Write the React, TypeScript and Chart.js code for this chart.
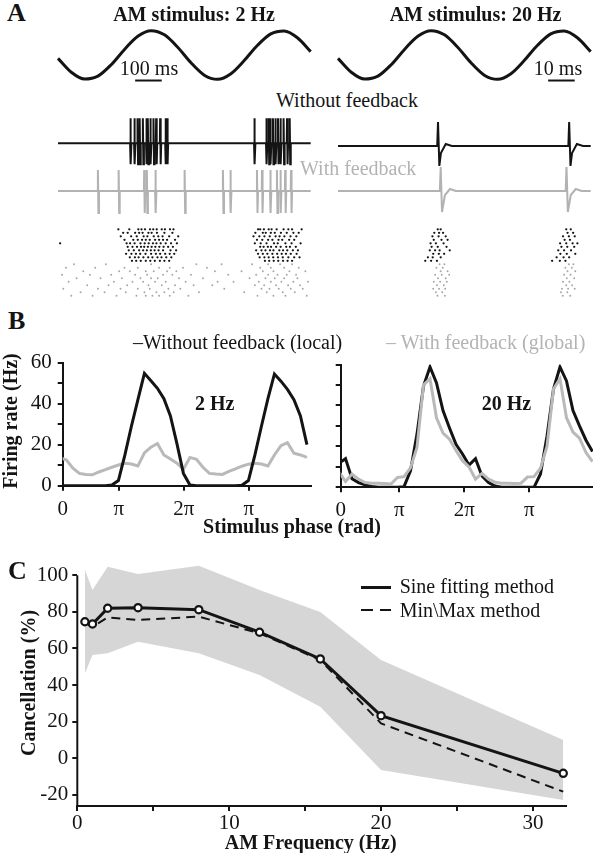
import React, { useEffect, useRef } from 'react';
import { Chart, registerables } from 'chart.js';

Chart.register(...registerables);

const FONT = "'Liberation Serif', 'DejaVu Serif', serif";
const INK = '#141414';
const GRAY_TRACE = '#b2b2b2';
const GRAY_RATE = '#b9b9b9';
const GRAY_BAND = '#d6d6d6';
Chart.defaults.font.family = FONT;

// ---------------- Panel A: stimulus ----------------
const STIM_T_2HZ = [0, 50, 100, 150, 200, 250, 300, 350, 400, 450, 500, 550, 600, 650, 700, 750, 800, 850, 900, 950];
const STIM_T_20HZ = [0, 5, 10, 15, 20, 25, 30, 35, 40, 45, 50, 55, 60, 65, 70, 75, 80, 85, 90, 95];
const STIM_WAVE = [-0.14, -0.71, -0.99, -0.87, -0.4, 0.23, 0.77, 1.0, 0.83, 0.32, -0.32, -0.83, -1.0, -0.77, -0.23, 0.4, 0.87, 0.99, 0.71, 0.14];
const SCALEBAR_2HZ_MS = [290, 390];
const SCALEBAR_20HZ_MS = [79, 89];
const SCALEBAR_LEVEL = -1.05;

// ---------------- Panel A: example traces (spike times, ms) ----------------
const SPIKES_LOCAL_2HZ = [271, 286, 298, 306, 318, 331, 337, 346, 358, 368, 383, 403, 409, 737, 782, 791, 797, 807, 816, 826, 835, 847, 860, 870];
const SPIKES_GLOBAL_2HZ = [149, 227, 323, 333, 365, 475, 619, 647, 747, 766, 797, 822, 835, 853, 875];
const SPIKES_LOCAL_20HZ = [37.3, 86.6];
const SPIKES_GLOBAL_20HZ = [38.3, 85.6];
// spike waveforms: [ms after spike onset, amplitude]
const WAVE_LOCAL_2HZ = [[0, 0], [1, 25], [3, -21], [5, 0]];
const WAVE_GLOBAL_2HZ = [[0, 0], [1, 21], [3, -22], [5, 0]];
const WAVE_LOCAL_20HZ = [[0, 0], [0.3, 24], [0.8, -20], [1.4, -7], [3.2, 2], [5.5, 0]];
const WAVE_GLOBAL_20HZ = [[0, 0], [0.3, 24], [0.8, -21], [1.9, -4], [3.8, 2], [6, 0]];

// ---------------- Panel A: rasters (spike times per trial, ms) ----------------
const RASTER_LOCAL_2HZ = [
  [227, 268, 302, 314, 327, 346, 358, 371, 390, 402, 421, 434, 752, 760, 774, 792, 803, 822, 848, 866, 880, 916],
  [245, 262, 290, 305, 318, 340, 352, 372, 400, 430, 742, 770, 781, 800, 815, 838, 860, 885, 905],
  [236, 275, 296, 322, 336, 360, 377, 393, 418, 452, 735, 757, 776, 796, 818, 833, 851, 874, 896],
  [250, 283, 300, 316, 330, 345, 365, 380, 395, 410, 440, 748, 768, 790, 806, 829, 843, 869, 888],
  [8, 258, 271, 288, 310, 326, 341, 357, 370, 386, 405, 425, 447, 740, 762, 784, 812, 826, 855, 878, 912],
  [262, 280, 297, 312, 324, 338, 352, 366, 381, 397, 414, 432, 760, 773, 789, 801, 820, 837, 858, 872, 894],
  [266, 285, 305, 320, 334, 349, 363, 378, 395, 423, 444, 745, 765, 780, 797, 810, 832, 846, 862, 883, 902],
  [256, 276, 293, 309, 329, 350, 368, 384, 403, 420, 437, 752, 770, 787, 806, 824, 841, 857, 875, 897],
  [270, 289, 303, 321, 339, 355, 374, 389, 407, 426, 758, 776, 792, 809, 827, 845, 866, 888, 908],
  [278, 294, 311, 330, 347, 364, 383, 400, 418, 778, 794, 811, 828, 846, 863, 880],
];
const RASTER_GLOBAL_2HZ = [
  [60, 180, 350, 520, 615, 730, 790, 835, 880],
  [30, 140, 250, 300, 380, 420, 470, 560, 760, 800, 850, 905],
  [95, 230, 270, 330, 360, 410, 445, 590, 690, 770, 810, 870, 930],
  [15, 120, 200, 290, 335, 395, 430, 500, 640, 745, 790, 825, 860, 895],
  [70, 160, 240, 310, 350, 375, 455, 545, 720, 780, 815, 850, 900],
  [40, 210, 280, 320, 365, 405, 480, 600, 660, 755, 800, 840, 885, 940],
  [110, 190, 260, 340, 390, 440, 510, 580, 740, 775, 820, 865, 910],
  [20, 150, 235, 300, 345, 415, 460, 625, 765, 795, 830, 875, 920],
  [85, 175, 255, 325, 370, 400, 435, 530, 700, 785, 845, 890],
  [50, 130, 220, 295, 330, 355, 380, 420, 490, 750, 810, 855, 935],
];
const RASTER_LOCAL_20HZ = [
  [37.5, 38.6, 85.8, 87.5],
  [36.2, 38.0, 39.5, 86.3, 88.4],
  [35.5, 37.8, 40.5, 84.6, 86.8, 89.0],
  [36.0, 38.9, 41.2, 85.2, 87.2],
  [34.8, 36.8, 39.7, 83.5, 85.8, 88.2, 90.0],
  [35.2, 37.5, 40.8, 84.0, 86.2, 88.8],
  [34.5, 36.5, 38.2, 42.0, 82.8, 85.0, 87.6],
  [35.8, 37.9, 39.9, 83.6, 86.0, 89.2],
  [33.8, 35.6, 38.6, 82.2, 84.8, 86.9],
  [32.8, 35.0, 37.2, 80.5, 83.4, 85.5],
];
const RASTER_GLOBAL_20HZ = [
  [38.2, 40.0, 86.8, 88.5],
  [37.0, 39.4, 85.5, 87.9],
  [38.6, 41.2, 86.3, 89.2],
  [36.5, 39.0, 41.8, 85.0, 87.4],
  [37.6, 40.5, 86.0, 88.8],
  [36.0, 38.4, 40.9, 84.6, 87.0],
  [37.2, 39.8, 85.8, 88.0],
  [35.8, 38.0, 40.3, 84.2, 86.5, 89.0],
  [36.8, 39.2, 83.8, 86.2],
  [37.4, 40.2, 84.5, 87.3],
];

// ---------------- Panel B: firing rate vs stimulus phase (phase in units of pi) ----------------
const PHASE_2HZ = [0.095, 0.195, 0.295, 0.395, 0.495, 0.595, 0.695, 0.795, 0.895, 0.995, 1.095, 1.195, 1.295, 1.395, 1.495, 1.595, 1.695, 1.795, 1.895, 1.995, 2.095, 2.195, 2.295, 2.395, 2.495, 2.595, 2.695, 2.795, 2.895, 2.995, 3.095, 3.195, 3.295, 3.395, 3.495, 3.595, 3.695, 3.795, 3.895];
const RATE_LOCAL_2HZ = [0, 0, 0, 0, 0, 0, 0, 0, 0.3, 2.5, 15, 29, 42, 54.8, 51.2, 47.5, 42.4, 34, 20.5, 6, 0.3, 0, 0, 0, 0, 0, 0, 0, 0.2, 2.5, 15, 29, 42.5, 54.5, 51, 47, 42, 34, 20];
const RATE_GLOBAL_2HZ = [13.8, 12.5, 8.5, 6, 5.5, 5.3, 6.7, 7.8, 9, 10.1, 10.9, 10.6, 9.6, 16, 18.8, 20.6, 15, 13, 11, 8, 13.8, 12.9, 9, 6, 5.7, 5.5, 7, 8.2, 9.5, 10.5, 10.9, 10.6, 9.6, 15, 19.5, 21, 15.8, 15, 13.8];
const PHASE_20HZ = [0.072, 0.172, 0.272, 0.372, 0.472, 0.572, 0.672, 0.772, 0.872, 0.972, 1.072, 1.172, 1.272, 1.372, 1.472, 1.572, 1.672, 1.772, 1.872, 1.972, 2.072, 2.172, 2.272, 2.372, 2.472, 2.572, 2.672, 2.772, 2.872, 2.972, 3.072, 3.172, 3.272, 3.372, 3.472, 3.572, 3.672, 3.772, 3.872, 3.972];
const RATE_LOCAL_20HZ = [11.8, 14, 4.2, 2.3, 1.2, 0.4, 0, 0, 0, 0, 0.3, 8, 26, 49.5, 58.8, 51, 37.5, 29, 21, 16.3, 10.9, 14, 5.5, 2.3, 0.6, 0, 0, 0, 0, 0, 0, 6.5, 25, 48, 58.8, 52, 37.5, 30, 23, 17.5];
const RATE_GLOBAL_20HZ = [7.5, 2.8, 6.5, 4, 2.3, 2, 2, 1.8, 1.6, 4.8, 5.2, 9.5, 19.5, 50, 53, 34, 26.5, 23.5, 18, 13, 10, 4, 6.8, 4, 2.5, 2, 2, 1.8, 2, 5, 5.2, 9.3, 20, 48, 53, 34, 27, 24, 17, 12.5];
const PHASE_TICKS = [0, 1, 2, 3];
const PHASE_TICK_LABELS = ['0', 'π', '2π', 'π'];
const RATE_TICKS = [0, 10, 20, 30, 40, 50, 60];

// ---------------- Panel C: cancellation vs AM frequency ----------------
const FREQ_HZ = [0.5, 1, 2, 4, 8, 12, 16, 20, 32];
const CANCEL_SINE = [74.6, 73.4, 82, 82.3, 81.2, 68.9, 54.3, 23.3, -8.2];
const CANCEL_MINMAX = [74, 71.9, 77, 75.6, 77.4, 68.3, 53.7, 19.1, -18.2];
const CANCEL_UPPER = [103, 92, 104.7, 100.7, 105.2, 92, 80, 53.7, 10];
const CANCEL_LOWER = [46.4, 56.4, 57.4, 63.7, 57.4, 45.5, 28.2, -6.4, -22.8];
const CANCEL_TICKS = [-20, 0, 20, 40, 60, 80, 100];
const FREQ_TICKS = [0, 5, 10, 15, 20, 25, 30];

// ---------------- helpers ----------------
const xy = (xs: number[], ys: number[]) => xs.map((x, i) => ({ x, y: ys[i] }));

function traceData(spikes: number[], wave: number[][], tEnd: number) {
  const pts: { x: number; y: number }[] = [{ x: 0, y: 0 }];
  spikes.forEach((s) => wave.forEach(([dt, v]) => pts.push({ x: s + dt, y: v })));
  pts.push({ x: tEnd, y: 0 });
  return pts;
}

function rasterData(trials: number[][], firstRow: number) {
  return trials.flatMap((tr, i) => tr.map((t) => ({ x: t, y: firstRow + i })));
}

type Area = { x0: number; y0: number; x1: number; y1: number };
type Built = { data: any; options: any; plugins?: any[] };

function Plot({ area, axes, build }: { area: Area; axes?: { left: number; bottom: number }; build: () => Built }) {
  const ref = useRef<HTMLCanvasElement>(null);
  const m = axes ? 20 : 4;
  const cl = Math.floor(area.x0 - (axes ? axes.left : m));
  const ct = Math.floor(area.y0 - m);
  const cr = Math.ceil(area.x1 + (axes ? 8 : m));
  const cb = Math.ceil(area.y1 + (axes ? axes.bottom : m));
  useEffect(() => {
    const { data, options, plugins } = build();
    const padding = axes
      ? { left: 0, top: area.y0 - ct, right: cr - area.x1, bottom: 0 }
      : { left: area.x0 - cl, top: area.y0 - ct, right: cr - area.x1, bottom: cb - area.y1 };
    if (axes) {
      options.scales.x.afterFit = (s: any) => { s.height = cb - area.y1; };
      options.scales.y.afterFit = (s: any) => { s.width = area.x0 - cl; };
    }
    const chart = new Chart(ref.current as HTMLCanvasElement, {
      type: 'line',
      data,
      plugins: plugins || [],
      options: {
        ...options,
        responsive: false,
        maintainAspectRatio: false,
        animation: false,
        devicePixelRatio: 1,
        events: [],
        layout: { padding, autoPadding: false },
        plugins: { legend: { display: false }, tooltip: { enabled: false }, title: { display: false } },
      },
    } as any);
    return () => chart.destroy();
  }, []);
  return (
    <canvas
      ref={ref}
      width={cr - cl}
      height={cb - ct}
      style={{ position: 'absolute', left: cl, top: ct, width: cr - cl, height: cb - ct }}
    />
  );
}

const hidden = (min: number, max: number, reverse = false) => ({ type: 'linear', min, max, reverse, display: false });

function axisStyle(tickPad: number) {
  return {
    grid: { display: true, drawOnChartArea: false, drawTicks: true, tickLength: 5, color: INK, lineWidth: 2 },
    border: { display: true, color: INK, width: 2 },
    ticks: { color: INK, padding: tickPad, font: { family: FONT, size: 21, weight: 'normal' }, maxRotation: 0, autoSkip: false },
  };
}

function Label({ x, y, size = 20, bold = false, color = INK, align = 'left', children }: any) {
  const shift = align === 'center' ? '-50%' : align === 'right' ? '-100%' : '0';
  return (
    <div
      style={{
        position: 'absolute', left: x, top: y - 0.8375 * size, fontFamily: FONT, fontSize: size,
        fontWeight: bold ? 700 : 400, lineHeight: `${size}px`, color, whiteSpace: 'nowrap',
        transform: `translateX(${shift})`,
      }}
    >
      {children}
    </div>
  );
}

function VLabel({ cx, cy, size = 20, children }: any) {
  return (
    <div
      style={{
        position: 'absolute', left: cx, top: cy, fontFamily: FONT, fontSize: size, fontWeight: 700,
        lineHeight: `${size}px`, color: INK, whiteSpace: 'nowrap', transform: 'translate(-50%, -50%) rotate(-90deg)',
      }}
    >
      {children}
    </div>
  );
}

// ---------------- panel A builders ----------------
function stimulusBuild(times: number[], bar: number[], tMax: number): Built {
  return {
    data: {
      datasets: [
        { data: xy(times, STIM_WAVE), borderColor: INK, borderWidth: 3, pointRadius: 0, cubicInterpolationMode: 'monotone', clip: false },
        { data: bar.map((t) => ({ x: t, y: SCALEBAR_LEVEL })), borderColor: INK, borderWidth: 2, pointRadius: 0, clip: false },
      ],
    },
    options: { scales: { x: hidden(0, tMax), y: hidden(-1.1, 1.1) } },
  };
}

function traceBuild(spikes: number[], wave: number[][], tMax: number, color: string, width: number): Built {
  return {
    data: {
      datasets: [{ data: traceData(spikes, wave, tMax), borderColor: color, borderWidth: width, pointRadius: 0, tension: 0, clip: false }],
    },
    options: { scales: { x: hidden(0, tMax), y: hidden(-25, 27) } },
  };
}

function rasterBuild(local: number[][], global: number[][], tMax: number): Built {
  return {
    data: {
      datasets: [
        { data: rasterData(local, 1), showLine: false, pointRadius: 1.15, pointBorderWidth: 0, pointBackgroundColor: INK, clip: false },
        { data: rasterData(global, 11), showLine: false, pointRadius: 0.95, pointBorderWidth: 0, pointBackgroundColor: '#a5a5a5', clip: false },
      ],
    },
    options: { scales: { x: hidden(0, tMax), y: hidden(0, 21, true) } },
  };
}

// ---------------- panel B builder ----------------
function rateBuild(phase: number[], local: number[], global: number[], xMin: number, xMax: number, showYLabels: boolean, grayOnTop: boolean): Built {
  const xs = axisStyle(6);
  const ys = axisStyle(6);
  return {
    data: {
      datasets: [
        { data: xy(phase, local), borderColor: INK, borderWidth: 3, pointRadius: 0, tension: 0, order: grayOnTop ? 1 : 0 },
        { data: xy(phase, global), borderColor: GRAY_RATE, borderWidth: 3, pointRadius: 0, tension: 0, order: grayOnTop ? 0 : 1 },
      ],
    },
    options: {
      scales: {
        x: {
          type: 'linear', min: xMin, max: xMax, ...xs,
          afterBuildTicks: (s: any) => { s.ticks = PHASE_TICKS.map((v) => ({ value: v === 0 ? s.min : v })); },
          ticks: { ...xs.ticks, callback: (_v: any, i: number) => PHASE_TICK_LABELS[i] },
        },
        y: {
          type: 'linear', min: 0, max: 60, ...ys,
          afterBuildTicks: (s: any) => { s.ticks = RATE_TICKS.map((v) => ({ value: v })); },
          ticks: { ...ys.ticks, callback: (v: any) => (showYLabels && v % 20 === 0 ? String(v) : '') },
        },
      },
    },
  };
}

// ---------------- panel C builder ----------------
const yAxisLine = {
  id: 'yAxisLine',
  afterDatasetsDraw(chart: any) {
    const y = chart.scales.y;
    const { ctx, chartArea } = chart;
    ctx.save();
    ctx.strokeStyle = INK;
    ctx.lineWidth = 2;
    ctx.beginPath();
    ctx.moveTo(chartArea.left, chartArea.bottom + 1);
    ctx.lineTo(chartArea.left, y.getPixelForValue(CANCEL_TICKS[CANCEL_TICKS.length - 1]));
    ctx.stroke();
    ctx.restore();
  },
};

function cancelBuild(): Built {
  const xs = axisStyle(0);
  const ys = axisStyle(4);
  return {
    plugins: [yAxisLine],
    data: {
      datasets: [
        { data: xy(FREQ_HZ, CANCEL_UPPER), borderWidth: 0, pointRadius: 0, fill: '+1', backgroundColor: GRAY_BAND, order: 3 },
        { data: xy(FREQ_HZ, CANCEL_LOWER), borderWidth: 0, pointRadius: 0, fill: false, order: 4 },
        { data: xy(FREQ_HZ, CANCEL_MINMAX), borderColor: INK, borderWidth: 2, borderDash: [9, 6], pointRadius: 0, tension: 0, order: 2 },
        {
          data: xy(FREQ_HZ, CANCEL_SINE), borderColor: INK, borderWidth: 3, tension: 0, order: 1,
          pointRadius: 3.6, pointBorderWidth: 2.2, pointBackgroundColor: '#ffffff', pointBorderColor: INK, clip: false,
        },
      ],
    },
    options: {
      scales: {
        x: {
          type: 'linear', min: 0, max: 32.2, ...xs,
          afterBuildTicks: (s: any) => { s.ticks = FREQ_TICKS.map((v) => ({ value: v })); },
          ticks: { ...xs.ticks, callback: (v: any) => (v % 10 === 0 ? String(v) : '') },
        },
        y: {
          type: 'linear', min: -26, max: 106, ...ys,
          border: { display: false },
          afterBuildTicks: (s: any) => { s.ticks = CANCEL_TICKS.map((v) => ({ value: v })); },
          ticks: { ...ys.ticks },
        },
      },
    },
  };
}

export default function App() {
  const A2 = { x0: 58, x1: 310.7 };
  const A20 = { x0: 338, x1: 590.7 };
  return (
    <div style={{ position: 'absolute', left: 0, top: 0, width: 593, height: 853, overflow: 'hidden', background: '#ffffff' }}>
      {/* Panel A */}
      <Plot area={{ ...A2, y0: 28.27, y1: 81.73 }} build={() => stimulusBuild(STIM_T_2HZ, SCALEBAR_2HZ_MS, 950)} />
      <Plot area={{ ...A20, y0: 28.27, y1: 81.73 }} build={() => stimulusBuild(STIM_T_20HZ, SCALEBAR_20HZ_MS, 95)} />
      <Plot area={{ ...A2, y0: 116.3, y1: 168.3 }} build={() => traceBuild(SPIKES_LOCAL_2HZ, WAVE_LOCAL_2HZ, 950, INK, 2)} />
      <Plot area={{ ...A2, y0: 164, y1: 216 }} build={() => traceBuild(SPIKES_GLOBAL_2HZ, WAVE_GLOBAL_2HZ, 950, GRAY_TRACE, 2)} />
      <Plot area={{ ...A20, y0: 119, y1: 171 }} build={() => traceBuild(SPIKES_LOCAL_20HZ, WAVE_LOCAL_20HZ, 95, INK, 2)} />
      <Plot area={{ ...A20, y0: 164, y1: 216 }} build={() => traceBuild(SPIKES_GLOBAL_20HZ, WAVE_GLOBAL_20HZ, 95, GRAY_TRACE, 2)} />
      <Plot area={{ ...A2, y0: 225.8, y1: 299.3 }} build={() => rasterBuild(RASTER_LOCAL_2HZ, RASTER_GLOBAL_2HZ, 950)} />
      <Plot area={{ ...A20, y0: 225.8, y1: 299.3 }} build={() => rasterBuild(RASTER_LOCAL_20HZ, RASTER_GLOBAL_20HZ, 95)} />

      {/* Panel B */}
      <Plot
        area={{ x0: 62.7, y0: 362.7, x1: 310.7, y1: 485.7 }}
        axes={{ left: 62.7, bottom: 40 }}
        build={() => rateBuild(PHASE_2HZ, RATE_LOCAL_2HZ, RATE_GLOBAL_2HZ, 0.138, 3.953, true, false)}
      />
      <Plot
        area={{ x0: 340.7, y0: 364.5, x1: 593, y1: 487.3 }}
        axes={{ left: 20, bottom: 40 }}
        build={() => rateBuild(PHASE_20HZ, RATE_LOCAL_20HZ, RATE_GLOBAL_20HZ, 0.098, 3.98, false, true)}
      />

      {/* Panel C */}
      <Plot area={{ x0: 77.3, y0: 564.3, x1: 566.3, y1: 805.9 }} axes={{ left: 77.3, bottom: 34 }} build={cancelBuild} />

      {/* Text: panel A */}
      <Label x={7} y={21.7} size={26} bold>A</Label>
      <Label x={194} y={20.7} bold align="center">AM stimulus: 2 Hz</Label>
      <Label x={475.5} y={20.7} bold align="center">AM stimulus: 20 Hz</Label>
      <Label x={149} y={75} align="center">100 ms</Label>
      <Label x={558} y={75} align="center">10 ms</Label>
      <Label x={276} y={106.5}>Without feedback</Label>
      <Label x={300} y={175} color="#b3b3b3">With feedback</Label>

      {/* Text: panel B */}
      <Label x={8} y={330} size={26} bold>B</Label>
      <Label x={133} y={348.3}>–Without feedback (local)</Label>
      <Label x={386} y={348.3} color="#b3b3b3">– With feedback (global)</Label>
      <Label x={195} y={410} bold>2 Hz</Label>
      <Label x={481.7} y={410} bold>20 Hz</Label>
      <VLabel cx={9.5} cy={421}>Firing rate (Hz)</VLabel>
      <Label x={292} y={533} bold align="center">Stimulus phase (rad)</Label>

      {/* Text: panel C */}
      <Label x={8} y={580} size={26} bold>C</Label>
      <VLabel cx={28} cy={683}>Cancellation (%)</VLabel>
      <Label x={310.7} y={849} bold align="center">AM Frequency (Hz)</Label>
      <div style={{ position: 'absolute', left: 361.3, top: 585.8, width: 30, height: 3, background: INK }} />
      <Label x={399.7} y={593}>Sine fitting method</Label>
      <div style={{ position: 'absolute', left: 361.3, top: 609, width: 11.7, height: 2.4, background: INK }} />
      <div style={{ position: 'absolute', left: 379.7, top: 609, width: 11.7, height: 2.4, background: INK }} />
      <Label x={399.7} y={616.5}>{'Min\\Max method'}</Label>
    </div>
  );
}
